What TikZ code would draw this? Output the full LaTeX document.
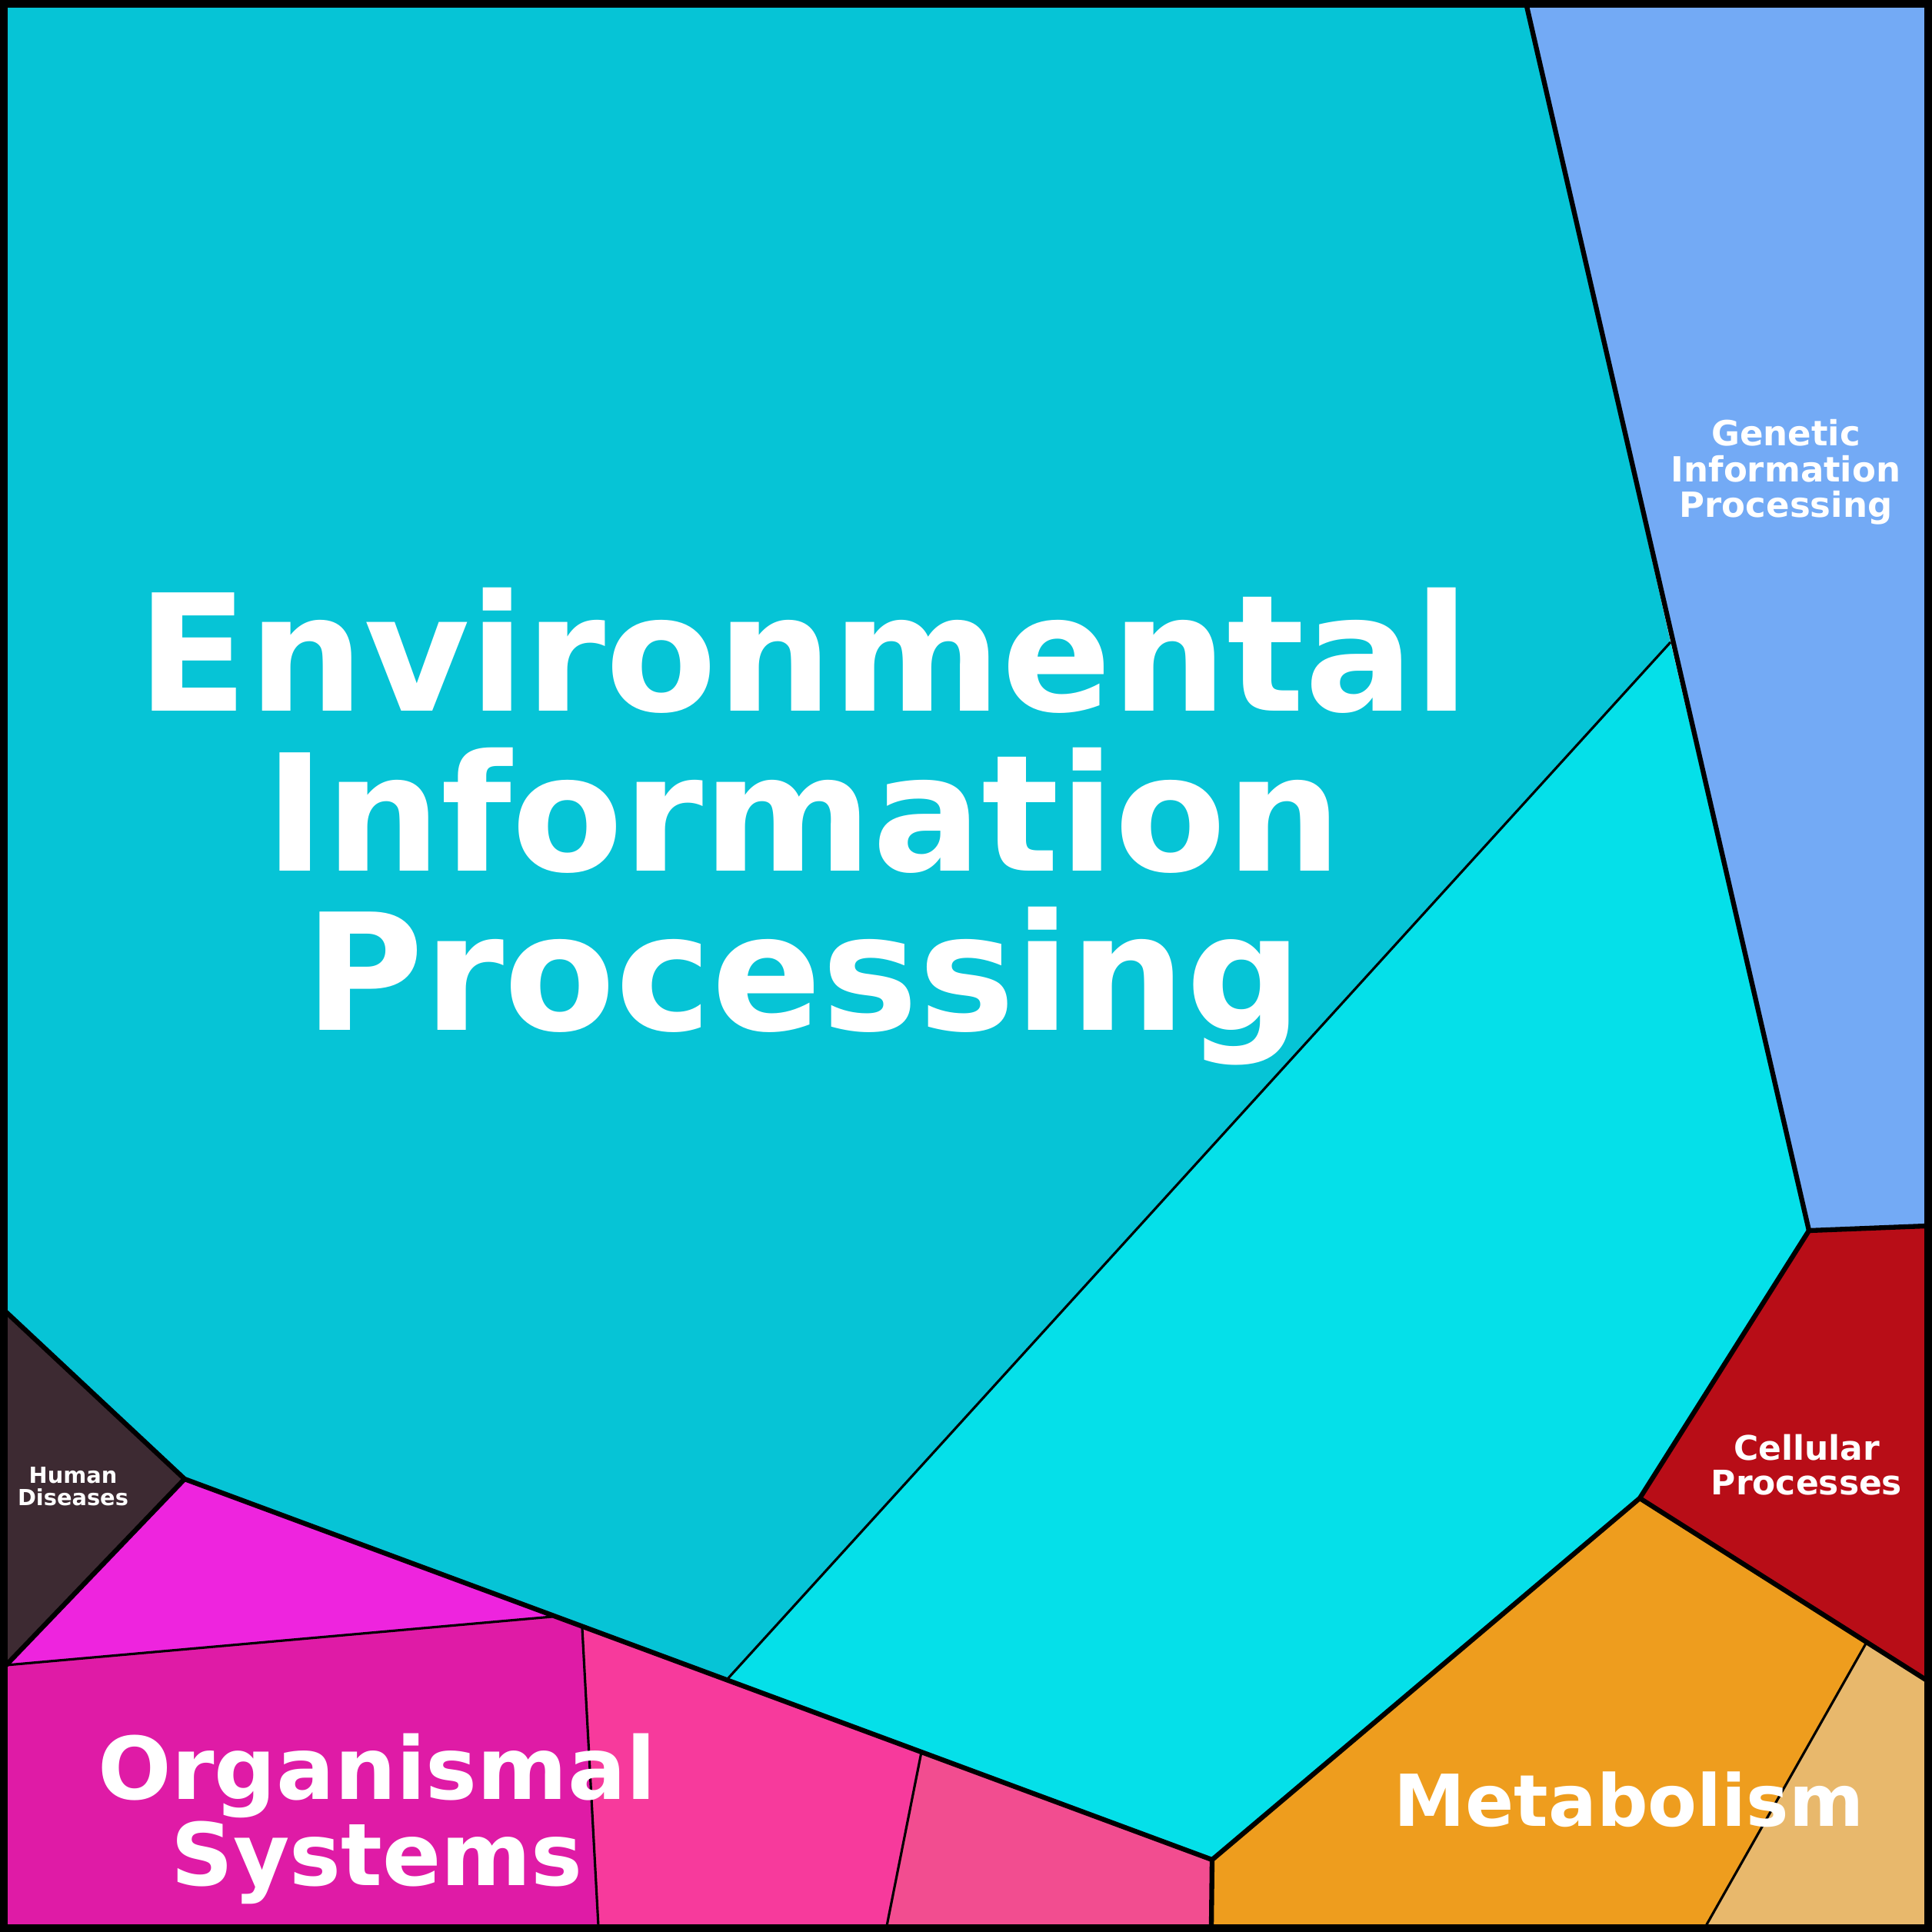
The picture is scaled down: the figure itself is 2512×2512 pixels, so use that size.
\documentclass[tikz,border=0pt]{standalone}
\usepackage{fontspec}
\setmainfont{DejaVu Sans}
\begin{document}
\begin{tikzpicture}[x=0.01cm,y=-0.01cm,
 thick/.style={line width=1.8pt,line join=round},
 thin/.style={line width=0.9pt},
 lab/.style={text=white,font=\bfseries,align=center,inner sep=0}]
\definecolor{env}{HTML}{06C4D6}\definecolor{cy}{HTML}{05E0E9}
\definecolor{gen}{HTML}{73AAF5}\definecolor{cel}{HTML}{B80D17}
\definecolor{met}{HTML}{EE9D1E}\definecolor{met2}{HTML}{E8B86C}
\definecolor{hum}{HTML}{3D2A32}\definecolor{mag}{HTML}{EE24DE}
\definecolor{org}{HTML}{DF1BA6}\definecolor{pk}{HTML}{F73A9C}
\definecolor{pk2}{HTML}{F24D90}
\useasboundingbox (0,0) rectangle (2512,2512);
\coordinate (G1) at (1985,8); \coordinate (G2) at (2352,1600);
\coordinate (GE) at (2172,835); \coordinate (C1) at (2504,1594);
\coordinate (C2) at (2132,1948); \coordinate (C3) at (2504,2184);
\coordinate (M1) at (1576,2418); \coordinate (M2) at (1575,2504);
\coordinate (MI) at (2426,2137); \coordinate (MJ) at (2218,2504);
\coordinate (E1) at (945,2184); \coordinate (O1) at (1198,2278);
\coordinate (O2) at (1153,2504); \coordinate (O3) at (757,2117);
\coordinate (O4) at (778,2504); \coordinate (O5) at (718,2102);
\coordinate (H0) at (240,1923); \coordinate (H1) at (8,1706);
\coordinate (H2) at (8,2165);
% fills
\fill[env] (8,8) -- (G1) -- (GE) -- (E1) -- (H0) -- (H1) -- cycle;
\fill[cy] (GE) -- (G2) -- (C2) -- (M1) -- (O1) -- (E1) -- cycle;
\fill[gen] (G1) -- (2504,8) -- (C1) -- (G2) -- cycle;
\fill[cel] (G2) -- (C1) -- (C3) -- (C2) -- cycle;
\fill[met] (C2) -- (MI) -- (MJ) -- (M2) -- (M1) -- cycle;
\fill[met2] (MI) -- (C3) -- (2504,2504) -- (MJ) -- cycle;
\fill[hum] (H1) -- (H0) -- (H2) -- cycle;
\fill[mag] (H0) -- (O5) -- (H2) -- cycle;
\fill[org] (H2) -- (O5) -- (O3) -- (O4) -- (8,2504) -- cycle;
\fill[pk] (O3) -- (E1) -- (O1) -- (O2) -- (O4) -- cycle;
\fill[pk2] (O1) -- (M1) -- (M2) -- (O2) -- cycle;
% thin lines
\draw[thin] (GE) -- (E1);
\draw[thin] (H2) -- (O5);
\draw[thin] (O3) -- (O4);
\draw[thin] (O1) -- (O2);
\draw[thin] (MI) -- (MJ);
% thick lines
\draw[thick] (G1) -- (G2) -- (C1);
\draw[thick] (G2) -- (C2) -- (C3);
\draw[thick] (C2) -- (M1) -- (M2);
\draw[thick] (M1) -- (H0);
\draw[thick] (H1) -- (H0) -- (H2);
\draw[line width=3.5pt] (4,4) rectangle (2508,2508);
% labels
\node[lab,font=\bfseries\fontsize{60}{59}\selectfont] (env) at (1045,1075) {Environmental\\Information\\Processing};
\node[lab,font=\bfseries\fontsize{12.8}{13.2}\selectfont] (gen) at (2322,614) {Genetic\\Information\\Processing};
\node[lab,font=\bfseries\fontsize{12.5}{12.8}\selectfont] (cel) at (2349,1905) {Cellular\\Processes};
\node[lab,font=\bfseries\fontsize{8.2}{8.2}\selectfont] (hum) at (95,1933) {Human\\Diseases};
\node[lab,font=\bfseries\fontsize{32}{29.5}\selectfont] (org) at (490,2365) {Organismal\\Systems};
\node[lab,font=\bfseries\fontsize{26.5}{26}\selectfont] (met) at (2118,2340) {Metabolism};
\end{tikzpicture}
\end{document}
